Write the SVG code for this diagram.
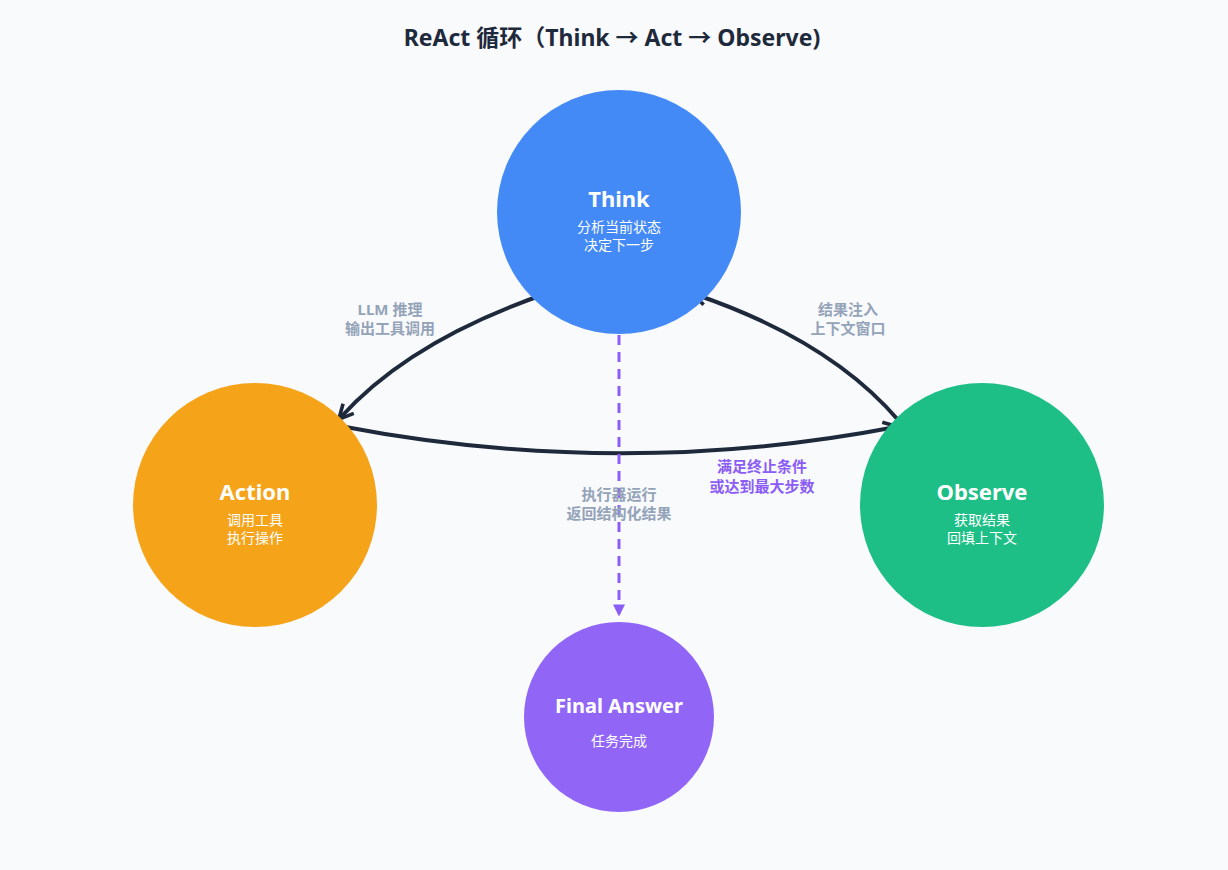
<svg xmlns="http://www.w3.org/2000/svg" width="1228" height="870" viewBox="0 0 1228 870">
<style>
text{font-family:"Noto Sans","Noto Sans CJK SC",sans-serif;text-anchor:middle}
.t{font-size:22px;font-weight:bold;fill:#fff}
.s{font-size:14px;fill:#fff}
.l{font-size:15px;font-weight:bold;fill:#94a3b8}
.p{font-size:15px;font-weight:bold;fill:#8b5cf6}
.c{fill:none;stroke:#1e293b;stroke-width:4;stroke-linecap:round}
</style>
<defs>
<marker id="a" viewBox="0 0 10 10" refX="8" refY="5" markerWidth="4.5" markerHeight="4.5" orient="auto"><path d="M1,1 L9,5 L1,9" fill="none" stroke="#1e293b" stroke-width="2"/></marker>
<marker id="pa" viewBox="0 0 10 10" refX="8" refY="5" markerWidth="4" markerHeight="4" orient="auto"><path d="M0,0 L10,5 L0,10 z" fill="#8b5cf6"/></marker>
</defs>
<rect width="1228" height="870" fill="#f8fafc"/>
<text x="612" y="46" style="font-size:23px;font-weight:bold;fill:#1e293b">ReAct 循环（Think → Act → Observe)</text>
<g id="connectors">
<path class="c" d="M548,293 Q410,340 340,418" marker-end="url(#a)"/>
<path class="c" d="M340,426 Q620,480 896,427" marker-end="url(#a)"/>
<path class="c" d="M899,421 Q830,340 694,294" marker-end="url(#a)"/>
<path d="M619,335 L619,614" fill="none" stroke="#8b5cf6" stroke-width="3" stroke-dasharray="10,7" marker-end="url(#pa)"/>
<text class="l" x="390" y="315">LLM 推理</text><text class="l" x="390" y="334">输出工具调用</text>
<text class="l" x="848" y="315">结果注入</text><text class="l" x="848" y="334">上下文窗口</text>
<text class="l" x="619" y="500">执行器运行</text><text class="l" x="619" y="519">返回结构化结果</text>
<text class="p" x="762" y="472">满足终止条件</text><text class="p" x="762" y="492">或达到最大步数</text>
</g>
<g id="think"><circle cx="619" cy="212" r="122" fill="#448af7"/><text class="t" x="619" y="207">Think</text><text class="s" x="619" y="232">分析当前状态</text><text class="s" x="619" y="250">决定下一步</text></g>
<g id="action"><circle cx="255" cy="505" r="122" fill="#f5a41a"/><text class="t" x="255" y="500">Action</text><text class="s" x="255" y="525">调用工具</text><text class="s" x="255" y="543">执行操作</text></g>
<g id="observe"><circle cx="982" cy="505" r="122" fill="#1dbf87"/><text class="t" x="982" y="500">Observe</text><text class="s" x="982" y="525">获取结果</text><text class="s" x="982" y="543">回填上下文</text></g>
<g id="final"><circle cx="619" cy="717" r="95" fill="#9166f7"/><text class="t" x="619" y="713" style="font-size:20px">Final Answer</text><text class="s" x="619" y="746">任务完成</text></g>
</svg>
